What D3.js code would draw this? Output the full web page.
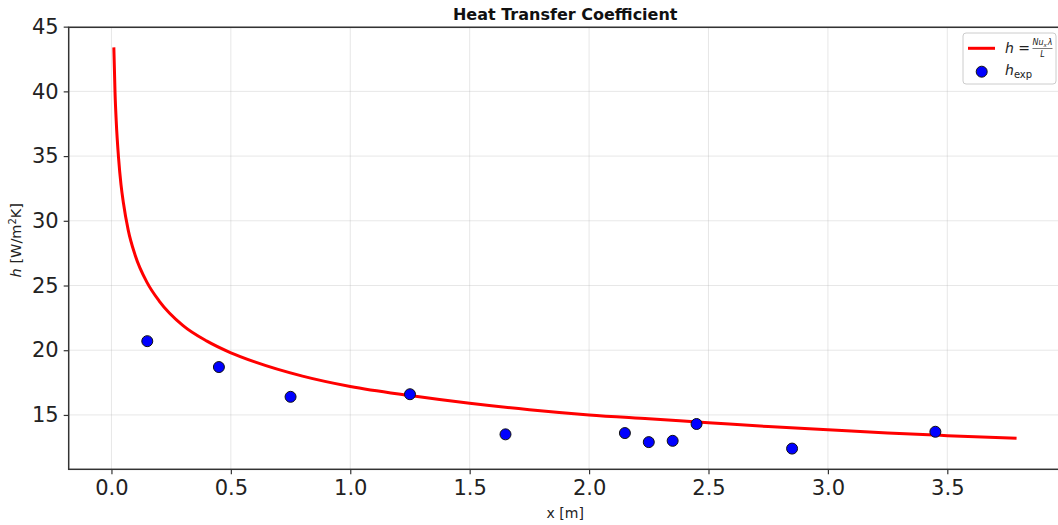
<!DOCTYPE html>
<html>
<head>
<meta charset="utf-8">
<script src="https://cdn.jsdelivr.net/npm/d3@7"></script>
<style>
  body { margin: 0; background: #fff; }
  svg { display: block; font-family: "DejaVu Sans", sans-serif; }
</style>
</head>
<body>
<script>
// model curve h = Nu_x * lambda / L
var curveX = [0.01, 0.015, 0.02, 0.03, 0.04, 0.05, 0.07, 0.1, 0.15, 0.2, 0.3, 0.4, 0.5, 0.6, 0.8, 1.0, 1.25, 1.5, 1.75, 2.0, 2.25, 2.5, 2.75, 3.0, 3.25, 3.5, 3.79];
var curveH = [43.4, 39.9, 37.7, 34.8, 32.8, 31.4, 29.3, 27.3, 25.2, 23.8, 21.9, 20.7, 19.8, 19.1, 18.0, 17.2, 16.5, 15.9, 15.4, 15.0, 14.7, 14.4, 14.1, 13.85, 13.6, 13.4, 13.2];

// measured points
var expX = [0.15, 0.45, 0.75, 1.25, 1.65, 2.15, 2.25, 2.35, 2.45, 2.85, 3.45];
var expH = [20.7, 18.7, 16.4, 16.6, 13.5, 13.6, 12.9, 13.0, 14.3, 12.4, 13.7];

var xTicks = [0, 0.5, 1.0, 1.5, 2.0, 2.5, 3.0, 3.5];
var yTicks = [15, 20, 25, 30, 35, 40, 45];

var W = 1058, H = 525;
var margin = { top: 27.3, right: -3.7, bottom: 55.7, left: 68.7 };
var width = W - margin.left - margin.right,
    height = H - margin.top - margin.bottom;

var svg = d3.select("body").append("svg")
  .attr("width", W)
  .attr("height", H);

var g = svg.append("g")
  .attr("transform", "translate(" + margin.left + "," + margin.top + ")");

var x = d3.scaleLinear().domain([-0.179, 3.979]).range([0, width]);
var y = d3.scaleLinear().domain([10.8, 44.95]).range([height, 0]);

// grid
g.append("g").selectAll("line").data(xTicks).enter().append("line")
  .attr("x1", d => x(d)).attr("x2", d => x(d))
  .attr("y1", 0).attr("y2", height)
  .style("stroke", "#b0b0b0").style("stroke-opacity", 0.3).style("stroke-width", 1);
g.append("g").selectAll("line").data(yTicks).enter().append("line")
  .attr("x1", 0).attr("x2", width)
  .attr("y1", d => y(d)).attr("y2", d => y(d))
  .style("stroke", "#b0b0b0").style("stroke-opacity", 0.3).style("stroke-width", 1);

// axes
var xAxis = g.append("g")
  .attr("transform", "translate(0," + height + ")")
  .call(d3.axisBottom(x).tickValues(xTicks).tickFormat(d3.format(".1f")).tickSizeOuter(0).tickSize(5).tickPadding(6));
var yAxis = g.append("g")
  .call(d3.axisLeft(y).tickValues(yTicks).tickFormat(d3.format("d")).tickSizeOuter(0).tickSize(5).tickPadding(5));

[xAxis, yAxis].forEach(function (a) {
  a.select(".domain").remove();
  a.selectAll("line").style("stroke", "#333").style("stroke-width", 1.2);
  a.selectAll("text").style("font-size", "21px").style("fill", "#222")
    .style("font-family", "'DejaVu Sans', sans-serif");
});

// frame
g.append("rect")
  .attr("x", 0).attr("y", 0).attr("width", width).attr("height", height)
  .style("fill", "none").style("stroke", "#333").style("stroke-width", 1.5);

// curve
var line = d3.line()
  .x((d, i) => x(curveX[i]))
  .y(d => y(d))
  .curve(d3.curveMonotoneX);

g.append("path")
  .datum(curveH)
  .attr("d", line)
  .style("fill", "none")
  .style("stroke", "#ff0000")
  .style("stroke-width", 3);

// points
g.append("g").selectAll("circle").data(expH).enter().append("circle")
  .attr("cx", (d, i) => x(expX[i]))
  .attr("cy", d => y(d))
  .attr("r", 5.5)
  .style("fill", "#0000ff")
  .style("stroke", "#111")
  .style("stroke-width", 1);

// title
var cx = margin.left + width / 2;
svg.append("text")
  .attr("x", cx).attr("y", 19.5)
  .attr("text-anchor", "middle")
  .style("font-size", "16px").style("font-weight", "bold").style("fill", "#111")
  .text("Heat Transfer Coefficient");

// x label
svg.append("text")
  .attr("x", cx).attr("y", 518)
  .attr("text-anchor", "middle")
  .style("font-size", "14px").style("fill", "#222")
  .text("x [m]");

// y label
var yl = svg.append("text")
  .attr("transform", "translate(21," + (margin.top + y(28.5)) + ") rotate(-90)")
  .attr("text-anchor", "middle")
  .style("font-size", "14.5px").style("fill", "#222");
yl.append("tspan").style("font-style", "italic").text("h");
yl.append("tspan").text(" [W/m");
yl.append("tspan").attr("dy", -5).style("font-size", "10px").text("2");
yl.append("tspan").attr("dy", 5).text("K]");

// legend
var lg = svg.append("g").attr("transform", "translate(963,33)");
lg.append("rect")
  .attr("width", 93).attr("height", 51).attr("rx", 3)
  .style("fill", "#fff").style("fill-opacity", 0.8)
  .style("stroke", "#ccc").style("stroke-width", 1);
lg.append("line")
  .attr("x1", 5).attr("x2", 32).attr("y1", 15.3).attr("y2", 15.3)
  .style("stroke", "#ff0000").style("stroke-width", 3);
lg.append("circle")
  .attr("cx", 18.7).attr("cy", 38.7).attr("r", 5.5)
  .style("fill", "#0000ff").style("stroke", "#111").style("stroke-width", 1);

var t1 = lg.append("text").attr("x", 42).attr("y", 20).style("font-size", "14px").style("fill", "#222");
t1.append("tspan").style("font-style", "italic").text("h");
t1.append("tspan").text(" =");
var fr = lg.append("g").attr("transform", "translate(69.5,0)");
var num = fr.append("text").attr("x", 0).attr("y", 12).style("font-size", "8px").style("fill", "#222");
num.append("tspan").style("font-style", "italic").text("Nu");
num.append("tspan").attr("dy", 2).style("font-size", "5.5px").style("font-style", "italic").text("x");
num.append("tspan").attr("dy", -2).attr("dx", 1).style("font-style", "italic").text("λ");
fr.append("line").attr("x1", 0).attr("x2", 20).attr("y1", 15.5).attr("y2", 15.5)
  .style("stroke", "#222").style("stroke-width", 0.6);
fr.append("text").attr("x", 10).attr("y", 24).attr("text-anchor", "middle")
  .style("font-size", "8px").style("font-style", "italic").style("fill", "#222").text("L");

var t2 = lg.append("text").attr("x", 42).attr("y", 42).style("font-size", "14px").style("fill", "#222");
t2.append("tspan").style("font-style", "italic").text("h");
t2.append("tspan").attr("dy", 3).style("font-size", "10px").text("exp");
</script>
</body>
</html>
